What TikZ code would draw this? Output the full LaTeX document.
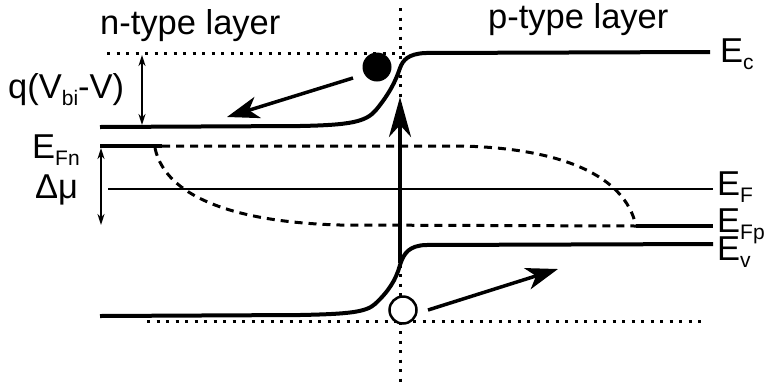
\documentclass[tikz,border=0pt]{standalone}
\usepackage{fontspec}
\setmainfont{Liberation Sans}
\usetikzlibrary{arrows.meta,positioning}
\newcommand{\lowidx}[1]{\raisebox{-0.21em}{\fontsize{21bp}{21bp}\selectfont #1}}

\begin{document}
\begin{tikzpicture}[x=1bp,y=-1bp,
  band/.style={line width=4bp},
  level/.style={line width=2.5bp},
  guide/.style={line width=3bp,dash pattern=on 3bp off 6.5bp},
  quasi/.style={line width=3bp,dash pattern=on 8bp off 6bp},
  carrier/.style={line width=3.5bp,-{Stealth[length=32bp,width=22bp,inset=9bp]}},
  pump/.style={line width=3.5bp,-{Stealth[length=40bp,width=22bp,inset=12bp]}},
  gap/.style={line width=2bp,{Stealth[length=11bp,width=7bp]}-{Stealth[length=11bp,width=7bp]}},
  lbl/.style={inner sep=0pt,anchor=base west,font=\fontsize{34.5bp}{40bp}\selectfont},
]
  \useasboundingbox (0,0) rectangle (765,383);

  % guides at the junction
  \coordinate (jtop) at (400,8);
  \coordinate (jbot) at (400,383);
  \draw[guide] (jtop) -- (jbot);
  \draw[guide] (107,53) -- (410,53);
  \draw[guide] (147,321) -- (702,321);

  % bands and levels
  \draw[band] (100,127) -- (300,126) .. controls (350,125) and (366,122) .. (376,110)
    .. controls (390,93) and (396,80) .. (400,68) .. controls (403,60) and (408,54) .. (425,53) -- (710,52);
  \draw[band] (100,316) -- (300,315) .. controls (350,314) and (366,312) .. (375,304)
    .. controls (388,292) and (396,280) .. (400,265) .. controls (404,252) and (410,246) .. (425,245) -- (713,244);
  \draw[level] (108,189) -- (713,189);
  \draw[band] (100,146) -- (162,146);
  \draw[band] (636,226) -- (713,226);
  \draw[quasi] (162,146) -- (460,146) .. controls (560,148) and (625,175) .. (636,226);
  \draw[quasi] (155,148) .. controls (165,195) and (230,222) .. (340,225) -- (636,226);

  % carriers
  \node[circle,fill,inner sep=0pt,minimum size=29bp] (elec) at (377,67) {};
  \node[circle,draw,line width=2.5bp,fill=white,inner sep=0pt,minimum size=27bp] (hole) at (403,310) {};
  \coordinate (etail) at (353,78);
  \coordinate (etip) at (227,117);
  \coordinate (htail) at (428,310);
  \coordinate (htip) at (558,269);
  \draw[carrier] (etail) -- (etip);
  \draw[carrier] (htail) -- (htip);
  \coordinate (pbase) at (400,263);
  \coordinate (ptip) at (400,97);
  \draw[pump] (pbase) -- (ptip);

  % gaps
  \coordinate (qtop) at (142,55);
  \coordinate (qbot) at (142,125);
  \draw[gap] (qtop) -- (qbot);
  \coordinate (mutop) at (101,148);
  \coordinate (mubot) at (101,225);
  \draw[gap] (mutop) -- (mubot);

  % labels
  \node[lbl] (ntype) at (100,34) {n-type layer};
  \node[lbl] (ptype) at (488,28) {p-type layer};
  \node[lbl] (ec) at (720,62) {E\lowidx{c}};
  \node[lbl] (ef) at (717,195) {E\lowidx{F}};
  \node[lbl] (efp) at (717,232) {E\lowidx{Fp}};
  \node[lbl] (ev) at (717,260) {E\lowidx{v}};
  \node[lbl] (efn) at (32,158) {E\lowidx{Fn}};
  \node[lbl] (dmu) at (35,198) {Δμ};
  \node[lbl] (qv) at (8,98) {q(V\lowidx{bi}-V)};
\end{tikzpicture}
\end{document}
